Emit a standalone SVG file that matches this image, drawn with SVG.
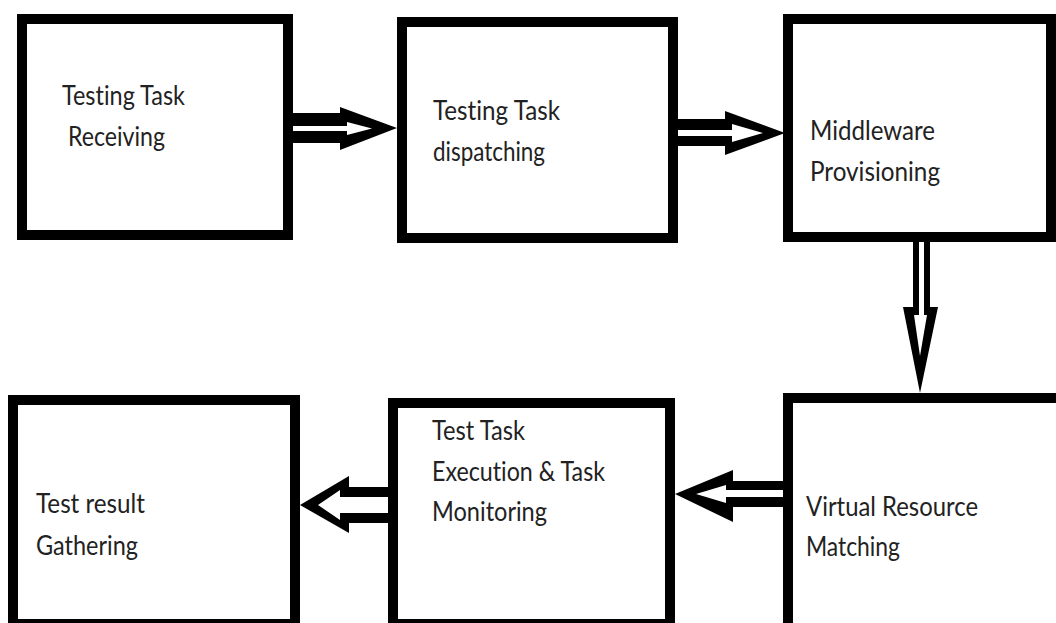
<svg xmlns="http://www.w3.org/2000/svg" width="1056" height="623" viewBox="0 0 1056 623">
<style>
.box{fill:none;stroke:#000;stroke-width:10}
.ao{fill:#000}
.ai{fill:#fff}
text{font-family:Lato,"Noto Sans","Liberation Sans",sans-serif;font-size:27px;fill:#222;font-variant-ligatures:none}
</style>
<rect width="1056" height="623" fill="#fff"/>
<g id="connectors">
  <g id="a1">
    <polygon class="ao" points="290,113 340,113 340,107 397,128 340,150 340,143 290,143"/>
    <polygon class="ai" points="290,126 347,126 347,122 372,128.5 347,135 347,131 290,131"/>
  </g>
  <g id="a2">
    <polygon class="ao" points="675,119 725,119 725,111 785,133 725,155 725,146 675,146"/>
    <polygon class="ai" points="675,130 732,130 732,124 763,133 732,142 732,136 675,136"/>
  </g>
  <g id="a3">
    <polygon class="ao" points="913,240 930,240 930,307 938,307 920,393 903,307 913,307"/>
    <polygon class="ai" points="919,240 924,240 924,315 927,315 920,356 914,315 919,315"/>
  </g>
  <g id="a4">
    <polygon class="ao" points="786,481 733,481 733,470 675,494 733,522 733,507 786,507"/>
    <polygon class="ai" points="786,490 726,490 726,485 696,494 726,503 726,497 786,497"/>
  </g>
  <g id="a5">
    <polygon class="ao" points="391,487 349,487 349,476 300,505 349,533 349,523 391,523"/>
    <polygon class="ai" points="391,497 340,497 340,490 318,505 340,520 340,513 391,513"/>
  </g>
</g>
<g id="n1">
  <rect class="box" x="22" y="19" width="266" height="216"/>
  <text x="62" y="105" textLength="123" lengthAdjust="spacingAndGlyphs">Testing Task</text>
  <text x="68" y="146" textLength="97" lengthAdjust="spacingAndGlyphs">Receiving</text>
</g>
<g id="n2">
  <rect class="box" x="402" y="22" width="271" height="216"/>
  <text x="433" y="120" textLength="127" lengthAdjust="spacingAndGlyphs">Testing Task</text>
  <text x="433" y="161" textLength="112" lengthAdjust="spacingAndGlyphs">dispatching</text>
</g>
<g id="n3">
  <rect class="box" x="788" y="19" width="263" height="218"/>
  <text x="810" y="140" textLength="125" lengthAdjust="spacingAndGlyphs">Middleware</text>
  <text x="810" y="181" textLength="130" lengthAdjust="spacingAndGlyphs">Provisioning</text>
</g>
<g id="n5">
  <rect class="box" x="788" y="398" width="300" height="300"/>
  <text x="806" y="516" textLength="172" lengthAdjust="spacingAndGlyphs">Virtual Resource</text>
  <text x="806" y="556" textLength="94" lengthAdjust="spacingAndGlyphs">Matching</text>
</g>
<g id="n4">
  <rect class="box" x="393" y="403" width="277" height="221"/>
  <text x="432" y="440" textLength="93" lengthAdjust="spacingAndGlyphs">Test Task</text>
  <text x="432" y="481" textLength="173" lengthAdjust="spacingAndGlyphs">Execution &amp; Task</text>
  <text x="432" y="521" textLength="115" lengthAdjust="spacingAndGlyphs">Monitoring</text>
</g>
<g id="n6">
  <rect class="box" x="13" y="400" width="282" height="224"/>
  <text x="36" y="513" textLength="109" lengthAdjust="spacingAndGlyphs">Test result</text>
  <text x="36" y="555" textLength="102" lengthAdjust="spacingAndGlyphs">Gathering</text>
</g>
</svg>
